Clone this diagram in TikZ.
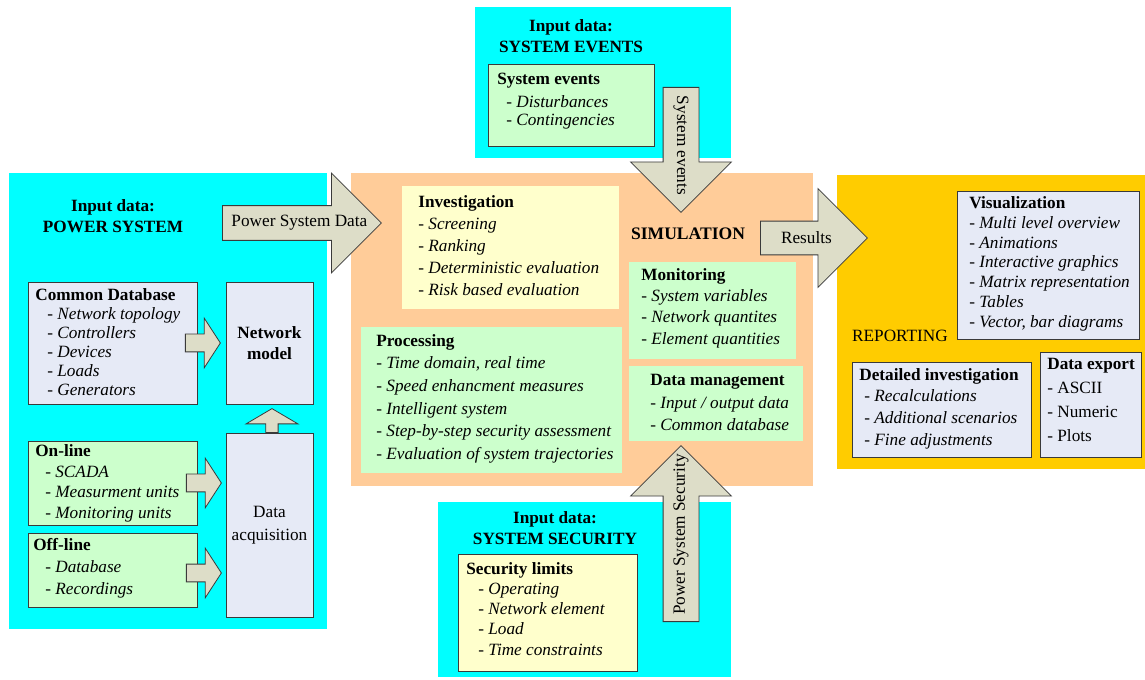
\documentclass[tikz,border=0pt]{standalone}
\usepackage{fontspec}
\setmainfont{Liberation Serif}
\usetikzlibrary{shapes.arrows,calc}

\definecolor{incyan}{HTML}{00FFFF}
\definecolor{simpeach}{HTML}{FFCC99}
\definecolor{repgold}{HTML}{FFCC00}
\definecolor{boxblue}{HTML}{E6EAF6}
\definecolor{boxgreen}{HTML}{CCFFCC}
\definecolor{boxyellow}{HTML}{FFFFCC}
\definecolor{arrfill}{HTML}{DDDDC8}
\definecolor{edgegray}{HTML}{3A3A3A}

\begin{document}
\begin{tikzpicture}[
  x=0.02cm, y=-0.02cm,
  font=\fontsize{9.8}{11.6}\selectfont,
  ls/.style={font=\fontsize{9.8}{#1}\selectfont},
  panel/.style={anchor=north west,inner sep=0pt,outer sep=0pt},
  box/.style={anchor=north west,inner sep=0pt,outer sep=0pt},
  bbox/.style={box,draw=edgegray,line width=0.45pt},
  txt/.style={anchor=north west,inner sep=0pt,align=left},
  ttl/.style={align=center,font=\fontsize{9.8}{12}\selectfont\bfseries},
  barrow/.style={single arrow,draw=edgegray,fill=arrfill,line width=0.45pt,
    inner xsep=0pt,single arrow head indent=0pt},
  bigarrow/.style={barrow,inner ysep=0.34cm,single arrow head extend=0.65cm,
    single arrow tip angle=90},
  smallarrow/.style={barrow,inner ysep=0.17cm,single arrow head extend=0.32cm,
    single arrow tip angle=114,minimum height=0.7cm}]

 \useasboundingbox (0,0) rectangle (1145,679);

 % ---- panels ----
 \node[panel,fill=incyan,minimum width=6.36cm,minimum height=9.12cm] (pspanel) at (9,173) {};
 \node[panel,fill=incyan,minimum width=5.12cm,minimum height=3.02cm] (sepanel) at (475,7) {};
 \node[panel,fill=incyan,minimum width=5.86cm,minimum height=3.50cm] (sspanel) at (438,502) {};
 \node[panel,fill=simpeach,minimum width=9.24cm,minimum height=6.26cm] (simpanel) at (351,173) {};
 \node[panel,fill=repgold,minimum width=6.16cm,minimum height=5.88cm] (reppanel) at (837,175) {};

 \node[ttl] (pstitle) at (113,216) {Input data:\\POWER SYSTEM};
 \node[ttl] (setitle) at (571,36) {Input data:\\SYSTEM EVENTS};
 \node[ttl] (sstitle) at (555,528) {Input data:\\SYSTEM SECURITY};
 \node[font=\bfseries] (simlabel) at (688,234) {SIMULATION};
 \node (replabel) at (900,336) {REPORTING};

 % ---- power system input ----
 \node[bbox,fill=boxblue,minimum width=3.38cm,minimum height=2.44cm] (cdb) at (28,282) {};
 \node[txt,ls=10.8pt] (cdbtxt) at ([shift={(7,6)}]cdb.north west) {\textbf{Common Database}\\
   \hspace*{0.24cm}- \textit{Network topology}\\
   \hspace*{0.24cm}- \textit{Controllers}\\
   \hspace*{0.24cm}- \textit{Devices}\\
   \hspace*{0.24cm}- \textit{Loads}\\
   \hspace*{0.24cm}- \textit{Generators}};
 \node[bbox,fill=boxblue,minimum width=1.74cm,minimum height=2.44cm,align=center,
   font=\fontsize{9.8}{12}\selectfont\bfseries] (netmodel) at (226,282) {Network\\model};
 \node[bbox,fill=boxgreen,minimum width=3.38cm,minimum height=1.68cm] (online) at (28,441) {};
 \node[txt,ls=11.8pt] (onltxt) at ([shift={(7,3)}]online.north west) {\textbf{On-line}\\
   \hspace*{0.2cm}- \textit{SCADA}\\
   \hspace*{0.2cm}- \textit{Measurment units}\\
   \hspace*{0.2cm}- \textit{Monitoring units}};
 \node[bbox,fill=boxgreen,minimum width=3.38cm,minimum height=1.48cm] (offline) at (28,533) {};
 \node[txt,ls=12.5pt] (offtxt) at ([shift={(5,5)}]offline.north west) {\textbf{Off-line}\\
   \hspace*{0.24cm}- \textit{Database}\\
   \hspace*{0.24cm}- \textit{Recordings}};
 \node[bbox,fill=boxblue,minimum width=1.74cm,minimum height=3.68cm,align=center,
   ls=13pt] (daq) at (226,433) {Data\\acquisition};

 % ---- system events input ----
 \node[bbox,fill=boxgreen,minimum width=3.32cm,minimum height=1.64cm] (sevbox) at (488,64) {};
 \node[txt,ls=10.4pt] (sevtxt) at ([shift={(9,9)}]sevbox.north west) {\textbf{System events}\\[2.6pt]
   \hspace*{0.18cm}- \textit{Disturbances}\\
   \hspace*{0.18cm}- \textit{Contingencies}};

 % ---- system security input ----
 \node[bbox,fill=boxyellow,minimum width=3.58cm,minimum height=2.34cm] (secbox) at (458,554) {};
 \node[txt,ls=11.5pt] (sectxt) at ([shift={(8,8)}]secbox.north west) {\textbf{Security limits}\\
   \hspace*{0.24cm}- \textit{Operating}\\
   \hspace*{0.24cm}- \textit{Network element}\\
   \hspace*{0.24cm}- \textit{Load}\\
   \hspace*{0.24cm}- \textit{Time constraints}};

 % ---- simulation ----
 \node[box,fill=boxyellow,minimum width=4.34cm,minimum height=2.46cm] (invest) at (402,186) {};
 \node[txt,ls=12.5pt] (invtxt) at ([shift={(16,9)}]invest.north west) {\textbf{Investigation}\\
   - \textit{Screening}\\
   - \textit{Ranking}\\
   - \textit{Deterministic evaluation}\\
   - \textit{Risk based evaluation}};
 \node[box,fill=boxgreen,minimum width=5.22cm,minimum height=2.92cm] (proc) at (361,327) {};
 \node[txt,ls=12.9pt] (proctxt) at ([shift={(15,7)}]proc.north west) {\textbf{Processing}\\
   - \textit{Time domain, real time}\\
   - \textit{Speed enhancment measures}\\
   - \textit{Intelligent system}\\
   - \textit{Step-by-step security assessment}\\
   - \textit{Evaluation of system trajectories}};
 \node[box,fill=boxgreen,minimum width=3.34cm,minimum height=1.94cm] (monit) at (629,262) {};
 \node[txt,ls=12.1pt] (montxt) at ([shift={(12,6)}]monit.north west) {\textbf{Monitoring}\\
   - \textit{System variables}\\
   - \textit{Network quantites}\\
   - \textit{Element quantities}};
 \node[box,fill=boxgreen,minimum width=3.48cm,minimum height=1.50cm] (dman) at (629,366) {};
 \node[txt,ls=12.8pt] (dmtxt) at ([shift={(21,8)}]dman.north west) {\textbf{Data management}\\
   - \textit{Input / output data}\\
   - \textit{Common database}};

 % ---- reporting ----
 \node[bbox,fill=boxblue,minimum width=3.64cm,minimum height=2.96cm] (visual) at (957,191) {};
 \node[txt,ls=11.3pt] (vistxt) at ([shift={(12,5)}]visual.north west) {\textbf{Visualization}\\
   - \textit{Multi level overview}\\
   - \textit{Animations}\\
   - \textit{Interactive graphics}\\
   - \textit{Matrix representation}\\
   - \textit{Tables}\\
   - \textit{Vector, bar diagrams}};
 \node[bbox,fill=boxblue,minimum width=3.58cm,minimum height=1.90cm] (detinv) at (852,362) {};
 \node[txt,ls=12.3pt] (dettxt) at ([shift={(7,6)}]detinv.north west) {\textbf{Detailed investigation}\\
   \hspace*{0.1cm}- \textit{Recalculations}\\
   \hspace*{0.1cm}- \textit{Additional scenarios}\\
   \hspace*{0.1cm}- \textit{Fine adjustments}};
 \node[bbox,fill=boxblue,minimum width=2.02cm,minimum height=2.10cm] (dexport) at (1040,352) {};
 \node[txt,ls=13.6pt] (dextxt) at ([shift={(7,6)}]dexport.north west) {\textbf{Data export}\\
   - ASCII\\
   - Numeric\\
   - Plots};

 % ---- block arrows ----
 \node[smallarrow,anchor=tail] (cdbarr) at ([xshift=-0.24cm]cdb.east) {};
 \node[smallarrow,anchor=tail] (onlarr) at ([xshift=-0.22cm]online.east) {};
 \node[smallarrow,anchor=tail] (offarr) at ([xshift=-0.22cm,yshift=-0.06cm]offline.east) {};
 \node[barrow,rotate=90,anchor=tail,inner ysep=0.115cm,single arrow head extend=0.395cm,
   single arrow tip angle=119,minimum height=0.48cm] (daqarr) at ([xshift=0.05cm]daq.north) {};
 \node[bigarrow,anchor=tail,minimum height=3.18cm] (psdarr) at (222,223) {};
 \node[bigarrow,anchor=tail,rotate=-90,inner ysep=0.35cm,minimum height=2.50cm] (sevarr) at (681,87) {};
 \node[bigarrow,anchor=tail,rotate=90,inner ysep=0.35cm,minimum height=3.52cm] (secarr) at (681,622) {};
 \node[bigarrow,anchor=tail,inner ysep=0.33cm,minimum height=2.14cm] (resarr) at (760,238) {};

 \node (psdlbl) at ($(psdarr.tail)!0.484!(psdarr.tip)$) {Power System Data};
 \node[rotate=-90] (sevlbl) at ($(sevarr.tail)!0.464!(sevarr.tip)$) {System events};
 \node[rotate=90] (seclbl) at ($(secarr.tail)!0.494!(secarr.tip)$) {Power System Security};
 \node (reslbl) at ($(resarr.tail)!0.43!(resarr.tip)$) {Results};
\end{tikzpicture}
\end{document}
